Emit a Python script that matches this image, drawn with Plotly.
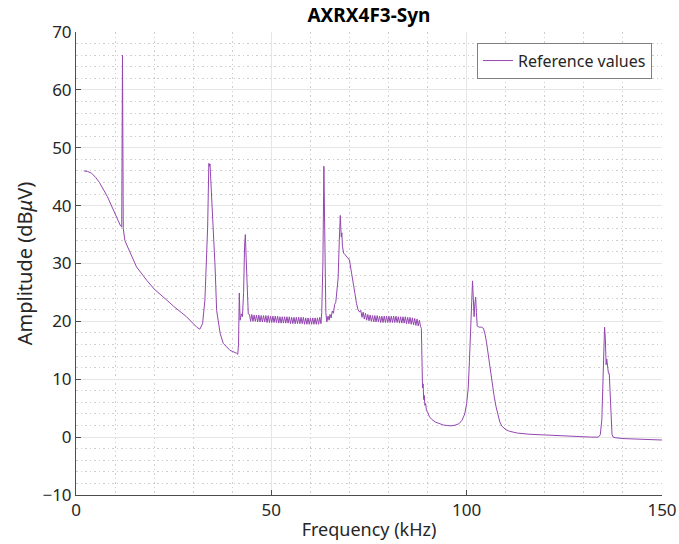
import plotly.graph_objects as go

# ---- data ----
pre_khz = [2.0, 3.0, 4.0, 5.0, 6.0, 7.0, 8.0, 9.0, 10.0, 10.6, 11.0, 11.4, 11.7,
           11.9, 12.1, 12.5, 13.0, 14.0, 15.5, 18.1, 20.0, 23.2, 25.0, 28.3, 30.9,
           31.7, 32.4, 33.0, 33.4, 33.7, 34.0, 34.15, 34.3, 34.6, 35.1, 35.6, 36.0,
           36.9, 37.7, 39.4, 41.1, 41.4, 41.6, 41.8, 42.0, 42.3, 42.6, 42.9, 43.15,
           43.35, 43.55, 43.9, 44.1]
pre_db = [46.0, 45.9, 45.6, 44.9, 44.0, 42.9, 41.6, 40.1, 38.5, 37.5, 36.9, 36.5, 36.3,
          66.0, 36.0, 34.0, 33.2, 31.6, 29.4, 27.1, 25.6, 23.7, 22.6, 20.8, 19.0,
          18.65, 19.6, 23.7, 29.4, 36.3, 47.3, 46.8, 47.2, 43.5, 37.5, 29.4, 21.9,
          17.9, 16.2, 15.0, 14.5, 14.3, 16.0, 24.9, 20.2, 21.3, 20.8, 25.0, 33.0,
          35.0, 31.0, 22.5, 21.3]

ripple1_khz = [44.4, 44.7, 45.0, 45.3, 45.6, 45.9, 46.2, 46.5, 46.8, 47.1,
               47.4, 47.7, 48.0, 48.3, 48.6, 48.9, 49.2, 49.5, 49.8, 50.1,
               50.4, 50.7, 51.0, 51.3, 51.6, 51.9, 52.2, 52.5, 52.8, 53.1,
               53.4, 53.7, 54.0, 54.3, 54.6, 54.9, 55.2, 55.5, 55.8, 56.1,
               56.4, 56.7, 57.0, 57.3, 57.6, 57.9, 58.2, 58.5, 58.8, 59.1,
               59.4, 59.7, 60.0, 60.3, 60.6, 60.9, 61.2, 61.5, 61.8, 62.1,
               62.4, 62.7]
ripple1_db = [21.2, 20.0, 21.2, 20.0, 21.1, 20.0, 21.1, 19.9, 21.1, 19.9,
              21.0, 19.9, 21.0, 19.9, 21.0, 19.8, 21.0, 19.8, 20.9, 19.8,
              20.9, 19.8, 20.9, 19.8, 20.9, 19.7, 20.8, 19.7, 20.8, 19.7,
              20.8, 19.7, 20.8, 19.7, 20.8, 19.6, 20.7, 19.6, 20.7, 19.6,
              20.7, 19.6, 20.7, 19.6, 20.7, 19.6, 20.7, 19.5, 20.6, 19.5,
              20.6, 19.5, 20.6, 19.5, 20.6, 19.5, 20.6, 19.5, 20.6, 19.5,
              20.7, 19.6]

mid_khz = [62.9, 63.2, 63.45, 63.7, 63.95, 64.2, 64.5, 64.8, 65.0, 65.3, 65.6, 65.9,
           66.2, 66.5, 66.8, 67.1, 67.4, 67.65, 67.9, 68.05, 68.2, 68.5, 68.9,
           69.3, 70.0, 70.5, 70.9, 71.4, 71.8, 72.2, 72.6]
mid_db = [21.5, 30.0, 46.8, 30.0, 21.5, 19.9, 20.9, 20.2, 21.2, 20.6, 21.8, 21.4,
          22.9, 23.3, 25.0, 27.5, 34.0, 38.3, 34.6, 35.3, 33.0, 31.8, 31.5,
          31.1, 30.6, 28.5, 26.5, 24.8, 23.1, 22.0, 21.6]

ripple2_khz = [72.9, 73.2, 73.5, 73.8, 74.1, 74.4, 74.7, 75.0, 75.3, 75.6,
               75.9, 76.2, 76.5, 76.8, 77.1, 77.4, 77.7, 78.0, 78.3, 78.6,
               78.9, 79.2, 79.5, 79.8, 80.1, 80.4, 80.7, 81.0, 81.3, 81.6,
               81.9, 82.2, 82.5, 82.8, 83.1, 83.4, 83.7, 84.0, 84.3, 84.6,
               84.9, 85.2, 85.5, 85.8, 86.1, 86.4, 86.7, 87.0, 87.3, 87.6,
               87.9, 88.2]
ripple2_db = [21.9, 20.7, 21.6, 20.4, 21.4, 20.2, 21.2, 20.1, 21.1, 20.0,
              21.0, 19.9, 21.0, 19.9, 21.0, 19.9, 20.9, 19.8, 20.9, 19.8,
              20.9, 19.8, 20.9, 19.8, 20.9, 19.8, 20.9, 19.8, 20.9, 19.8,
              20.9, 19.8, 20.8, 19.7, 20.8, 19.7, 20.8, 19.7, 20.8, 19.6,
              20.7, 19.6, 20.7, 19.5, 20.6, 19.4, 20.5, 19.3, 20.4, 19.2,
              20.2, 19.1]

post_khz = [88.4, 88.6, 88.7, 88.85, 89.0, 89.15, 89.3, 89.5, 89.7, 90.0, 90.5, 91.0,
            92.0, 93.0, 94.0, 95.0, 96.0, 97.0, 98.0, 98.8, 99.5, 100.0, 100.4,
            100.7, 101.0, 101.3, 101.5, 101.7, 101.9, 102.1, 102.3, 102.5, 102.7,
            103.2, 103.8, 104.3, 104.7, 105.1, 105.5, 106.0, 106.5, 107.0, 107.5,
            108.0, 108.5, 109.0, 110.0, 111.0, 113.0, 116.0, 120.0, 124.0, 128.0,
            132.0, 133.7, 134.2, 134.6, 134.9, 135.1, 135.3, 135.5, 135.7, 135.85,
            136.05, 136.3, 136.5, 136.7, 136.9, 137.2, 137.5, 138.0, 140.0, 145.0,
            150.0]
post_db = [18.8, 12.0, 8.5, 9.2, 6.5, 7.2, 5.5, 5.8, 4.6, 4.3, 3.5, 3.1,
           2.6, 2.3, 2.1, 2.0, 1.95, 2.05, 2.3, 2.9, 4.0, 5.8, 8.5,
           13.0, 19.0, 26.0, 27.0, 24.0, 20.8, 23.0, 24.2, 21.5, 19.2,
           19.0, 19.0, 18.8, 17.8, 16.3, 14.2, 12.0, 9.5, 7.2, 5.3,
           3.7, 2.6, 1.9, 1.3, 1.0, 0.7, 0.5, 0.35, 0.2, 0.1,
           0.0, 0.0, 0.4, 3.0, 10.0, 16.0, 19.0, 17.0, 12.5, 13.5,
           12.0, 11.0, 11.0, 8.0, 3.0, 0.5, 0.0, -0.1, -0.25, -0.4,
           -0.5]

freq_khz = pre_khz + ripple1_khz + mid_khz + ripple2_khz + post_khz
amp_db = pre_db + ripple1_db + mid_db + ripple2_db + post_db

x_ticks = [0, 50, 100, 150]
y_ticks = [-10, 0, 10, 20, 30, 40, 50, 60, 70]
x_minor = [10, 20, 30, 40, 60, 70, 80, 90, 110, 120, 130, 140]
y_minor = [-8, -6, -4, -2, 2, 4, 6, 8, 12, 14, 16, 18, 22, 24, 26, 28,
           32, 34, 36, 38, 42, 44, 46, 48, 52, 54, 56, 58, 62, 64, 66, 68]

FONT = "Noto Sans"
TXT = "#262626"

fig = go.Figure()
fig.add_trace(go.Scatter(
    x=freq_khz, y=amp_db, mode="lines", name="Reference values",
    line=dict(color="#9446B0", width=1),
))

axis_common = dict(
    showgrid=True, gridcolor="#E6E6E6", gridwidth=1,
    showline=True, linecolor="#4D4D4D", linewidth=1,
    ticks="inside", ticklen=5, tickcolor="#4D4D4D",
    zeroline=False, automargin=False,
    tickfont=dict(family=FONT, size=17, color=TXT),
)

fig.update_xaxes(
    range=[0, 150], tickvals=x_ticks,
    title=dict(text="Frequency (kHz)", font=dict(family=FONT, size=18, color=TXT), standoff=2),
    minor=dict(tickvals=x_minor, showgrid=True, gridcolor="#CFCFCF",
               griddash="1.5px,3px", ticks=""),
    **axis_common,
)
fig.update_yaxes(
    range=[-10, 70], tickvals=y_ticks,
    title=dict(text="Amplitude (dB<i>μ</i>V)", font=dict(family=FONT, size=20, color=TXT), standoff=4),
    minor=dict(tickvals=y_minor, showgrid=True, gridcolor="#CFCFCF",
               griddash="1.5px,3px", ticks=""),
    **axis_common,
)

fig.update_layout(
    width=679, height=544,
    margin=dict(l=76, r=17, t=32, b=49),
    paper_bgcolor="white", plot_bgcolor="white",
    title=dict(text="<b>AXRX4F3-Syn</b>", x=0.5434, xanchor="center",
               y=0.972, yanchor="middle", yref="container",
               font=dict(family=FONT, size=19, color="black")),
    legend=dict(x=0.983, xanchor="right", y=0.977, yanchor="top",
                bgcolor="white", bordercolor="#7F7F7F", borderwidth=1,
                font=dict(family=FONT, size=16, color=TXT)),
    showlegend=True,
)

fig.write_html("out.html")
